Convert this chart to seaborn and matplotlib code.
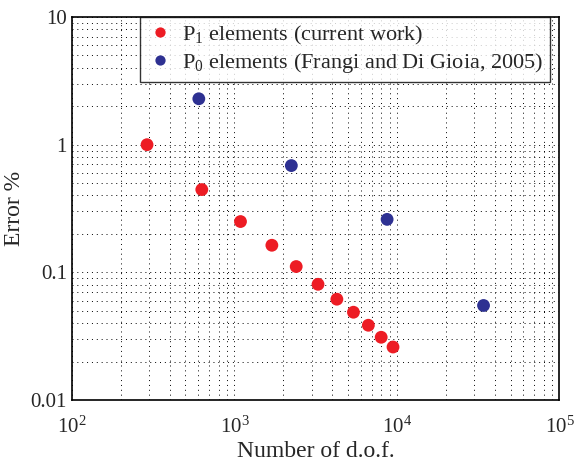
import pandas as pd
import seaborn as sns
import matplotlib.pyplot as plt
import numpy as np

# data
p1_dof = [290, 630, 1090, 1700, 2400, 3270, 4270, 5400, 6670, 8000, 9460]
p1_err = [1.0, 0.445, 0.25, 0.163, 0.111, 0.0806, 0.0616, 0.0487, 0.0385, 0.031, 0.026]
p0_dof = [604, 2240, 8700, 34100]
p0_err = [2.29, 0.686, 0.26, 0.055]

lab1 = r'P$_\mathregular{1}$ elements (current work)'
lab0 = r'P$_\mathregular{0}$ elements (Frangi and Di Gioia, 2005)'

df = pd.DataFrame({
    'dof': p1_dof + p0_dof,
    'err': p1_err + p0_err,
    'series': [lab1] * len(p1_dof) + [lab0] * len(p0_dof),
})

sns.set_style('white')
plt.rcParams['font.family'] = ['Liberation Serif', 'DejaVu Serif']
plt.rcParams['mathtext.fontset'] = 'custom'
plt.rcParams['mathtext.rm'] = 'Liberation Serif'

fig = plt.figure(figsize=(5.75, 4.67), dpi=100)
ax = fig.add_axes([0.125, 0.1435, 0.848, 0.82])

sns.scatterplot(data=df, x='dof', y='err', hue='series',
                palette={lab1: '#ED1C24', lab0: '#2E3192'},
                s=85, edgecolor='none', ax=ax, zorder=3)

ax.set_xscale('log')
ax.set_yscale('log')
ax.set_xlim(1e2, 1e5)
ax.set_ylim(0.01, 10)

ax.grid(True, which='both', linestyle=(0, (1, 4)), color='black', linewidth=0.7)
ax.set_yticks([0.01, 0.1, 1, 10])
ax.set_yticklabels(['0.01', '0.1', '1', '10'])
ax.tick_params(axis='both', which='both', labelsize=15, length=0)
ax.tick_params(axis='x', pad=12)
for sp in ax.spines.values():
    sp.set_color('black')
    sp.set_linewidth(1.2)

ax.set_xlabel('Number of d.o.f.', fontsize=17, labelpad=2)
ax.set_ylabel('Error %', fontsize=17, labelpad=4)

leg = ax.legend(loc='upper right', bbox_to_anchor=(0.98, 1.0), fontsize=16,
                frameon=True, fancybox=False, edgecolor='black',
                borderpad=0.3, handlelength=1.2, handletextpad=0.4,
                labelspacing=0.2, borderaxespad=0.0, markerscale=0.8)
leg.get_frame().set_linewidth(1.0)

fig.savefig('out.png', dpi=100)
